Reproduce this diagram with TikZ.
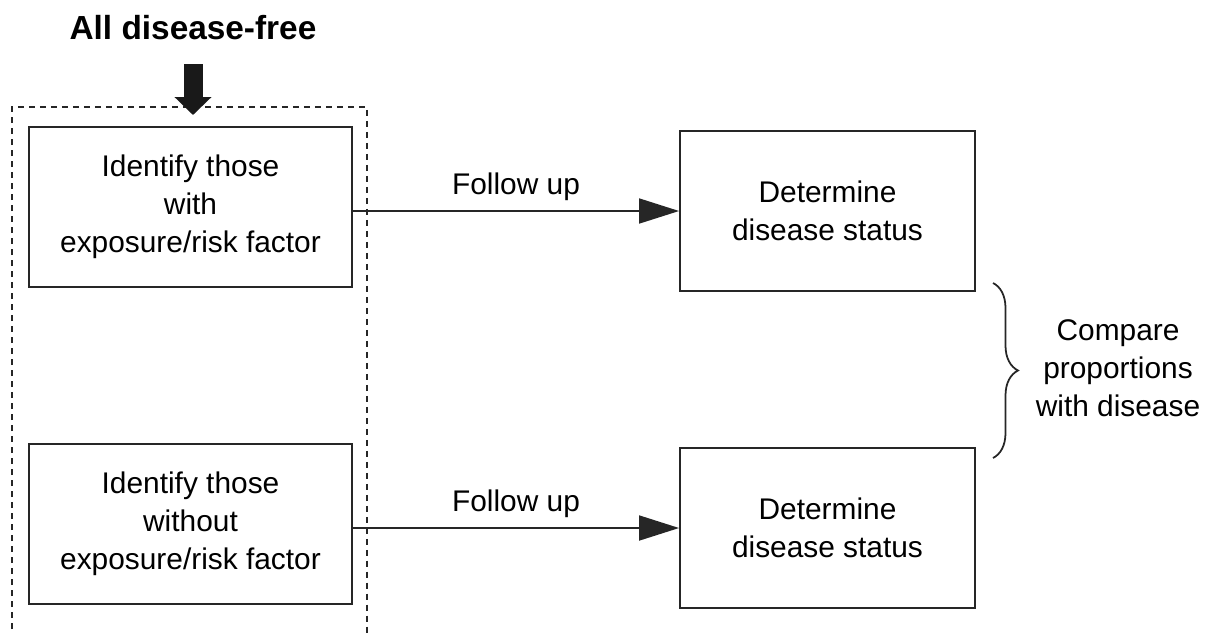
\documentclass[tikz,border=0pt]{standalone}
\usepackage{fontspec}
\setmainfont{Liberation Sans}
\usetikzlibrary{arrows.meta,decorations.pathreplacing}

\begin{document}
\begin{tikzpicture}[x=0.02cm,y=-0.02cm,
    font=\fontsize{17}{21.5}\selectfont,
    stepbox/.style={draw=black!85, line width=1.1pt, align=center, inner sep=0pt,
      minimum width=6.46cm, minimum height=3.2cm},
    statusbox/.style={stepbox, minimum width=5.9cm},
    followarrow/.style={draw=black!85, line width=1pt, -{Triangle[length=0.8cm,width=0.5cm]}}]
  % \draw[help lines, gray!50, very thin] (0,0) grid[step=50] (1209,633);
  \useasboundingbox (0,0) rectangle (1209,633);

  \node[font=\fontsize{19}{23}\selectfont\bfseries] (title) at (193,28) {All disease-free};

  % cohort frame, open at the bottom
  \draw[black!85, line width=0.8pt, dash pattern=on 0.12cm off 0.1cm]
    (12,640) -- (12,107) -- (367,107) -- (367,640);
  \coordinate (entry) at (193,115);
  \draw[black!90, line width=0.38cm, shorten <=0.36cm,
    -{Triangle[length=0.36cm,width=0.72cm]}] (title.south) -- (entry);

  \node[stepbox] (exposed) at (190.5,207) {Identify those\\with\\exposure/risk factor};
  \node[stepbox] (unexposed) at (190.5,524) {Identify those\\without\\exposure/risk factor};

  \node[statusbox] (status1) at (827.5,211) {Determine\\disease status};
  \node[statusbox] (status2) at (827.5,528) {Determine\\disease status};

  \draw[followarrow] (status1.west -| exposed.east) -- node[above=2pt] {Follow up} (status1.west);
  \draw[followarrow] (status2.west -| unexposed.east) -- node[above=2pt] {Follow up} (status2.west);

  \draw[black!85, line width=1pt, decorate, decoration={brace, amplitude=0.5cm}]
    (993,283) -- (993,458);
  \node[align=center] (compare) at (1118,368) {Compare\\proportions\\with disease};
\end{tikzpicture}
\end{document}
